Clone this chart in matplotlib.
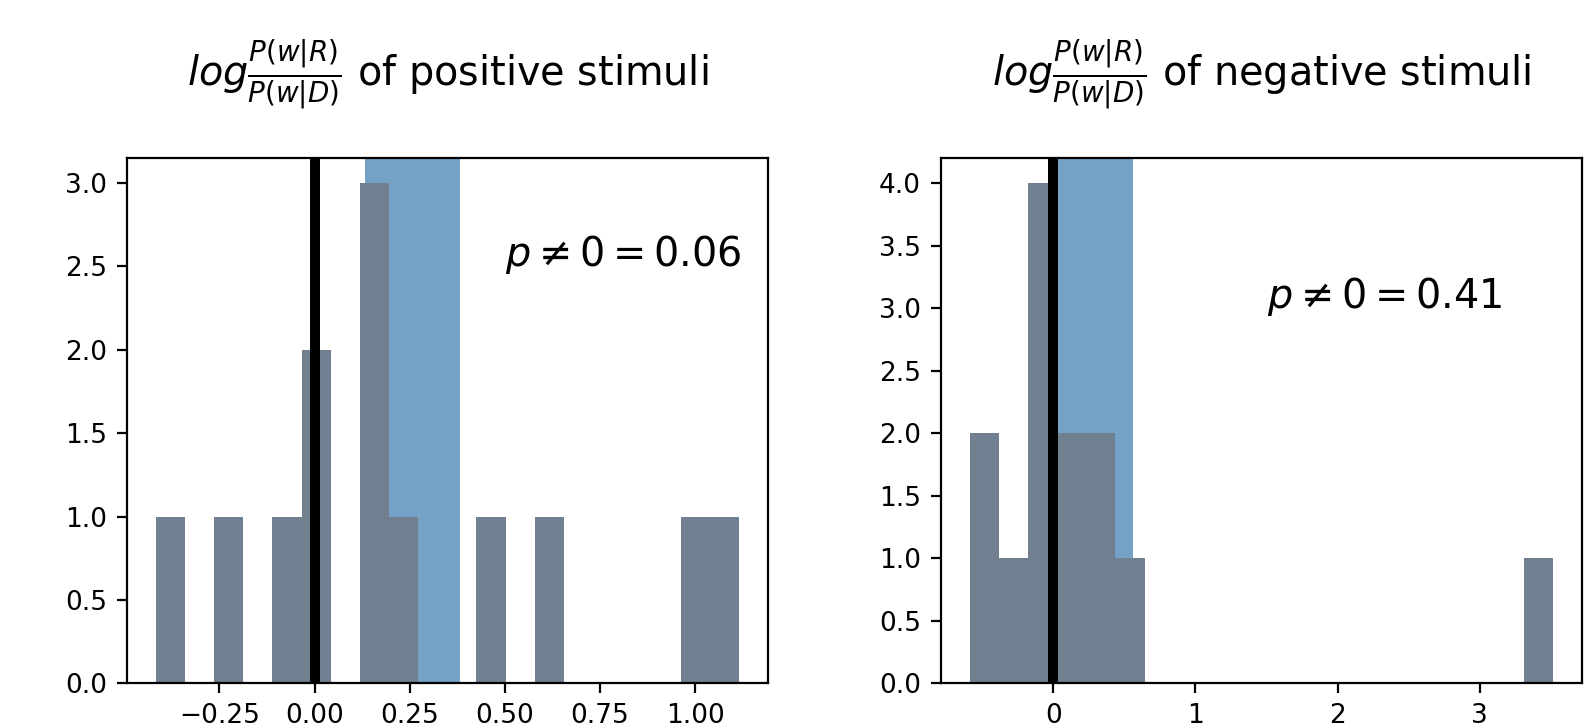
import matplotlib.pyplot as plt

# log P(w|R)/P(w|D) values, one per stimulus
positive_vals = [-0.417, -0.23, -0.07, -0.011, 0.02, 0.13, 0.15, 0.17, 0.22,
                 0.46, 0.62, 1.0, 1.115]
negative_vals = [-0.588, -0.45, -0.28, -0.15, -0.08, -0.03, 0.0, 0.08, 0.17,
                 0.3, 0.38, 0.52, 3.513]

# shaded interval for each group
positive_ci = [0.132, 0.383]
negative_ci = [0.0, 0.558]

p_values = [0.06, 0.41]
titles = [r'$log\frac{P(w|R)}{P(w|D)}$ of positive stimuli',
          r'$log\frac{P(w|R)}{P(w|D)}$ of negative stimuli']

fig, axes = plt.subplots(1, 2, figsize=(7.935, 3.625), dpi=200)
fig.subplots_adjust(left=0.0798, right=0.9968, bottom=0.0574, top=0.782, wspace=0.269)

groups = [(positive_vals, positive_ci, (0.5, 2.5)),
          (negative_vals, negative_ci, (1.5, 3.0))]

for ax, (vals, ci, txt_pos), p, title in zip(axes, groups, p_values, titles):
    # interval in the back, histogram over it, zero line on top
    ax.axvspan(ci[0], ci[1], color='steelblue', alpha=0.75, lw=0, zorder=0)
    ax.hist(vals, bins=20, color='slategray', zorder=1)
    ax.axvline(0, color='k', lw=3.6, zorder=2)
    ax.text(txt_pos[0], txt_pos[1], r'$p \neq 0 = %.2f$' % p, fontsize=14.3)
    ax.set_title(title, fontsize=14.3, pad=26)
    ax.tick_params(labelsize=9.5)

fig.savefig('out.png', dpi=200)
